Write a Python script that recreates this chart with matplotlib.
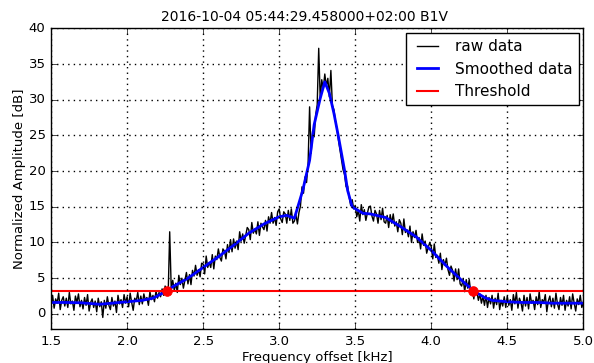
import matplotlib
matplotlib.use("Agg")
import matplotlib.pyplot as plt
import numpy as np

plt.style.use('classic')
plt.rcParams['font.family'] = ['DejaVu Sans']
plt.rcParams['font.size'] = 9.5

title = "2016-10-04 05:44:29.458000+02:00 B1V"

raw_start = 1.50
raw_step = 0.01
raw_values = [
    1.2, 2.6, 0.8, 2.1, 1.5, 2.9, 0.6, 1.9, 2.4, 1.1,
    2.2, 0.9, 3.0, 1.4, 1.8, 0.5, 2.5, 1.6, 2.8, 1.0,
    1.9, 0.7, 2.3, 1.2, 2.7, 0.4, 1.6, 2.1, 0.9, 1.8,
    0.3, 2.2, 1.0, 1.7, -0.5, 1.9, 0.8, 2.4, 1.2, 0.6,
    2.3, 1.1, 1.8, 0.2, 2.6, 1.4, 2.0, 0.9, 2.7, 1.5,
    2.4, 1.0, 2.9, 1.6, 0.5, 2.2, 1.8, 3.0, 1.3, 2.5,
    1.4, 2.8, 1.9, 2.3, 1.2, 3.1, 2.0, 2.6, 1.7, 3.2,
    2.2, 3.0, 2.4, 3.5, 2.6, 3.9, 3.1, 2.8, 11.5, 3.6,
    4.7, 3.3, 4.3, 3.0, 5.4, 4.1, 5.0, 3.6, 4.7, 5.8,
    4.2, 5.5, 4.1, 6.1, 5.3, 6.8, 5.4, 6.2, 5.2, 7.1,
    7.0, 5.6, 8.1, 6.5, 7.2, 6.5, 8.3, 6.3, 8.1, 7.6,
    9.1, 7.9, 7.4, 9.1, 8.8, 7.7, 9.7, 8.6, 10.4, 8.7,
    10.5, 9.2, 10.2, 9.0, 11.5, 10.2, 11.2, 9.9, 11.0, 12.1,
    11.8, 10.4, 12.8, 11.3, 11.9, 11.2, 12.9, 11.0, 12.7, 12.2,
    11.8, 13.1, 11.6, 13.6, 12.7, 14.2, 12.7, 13.5, 12.4, 14.3,
    14.7, 13.3, 12.8, 14.3, 14.0, 12.7, 14.5, 13.1, 14.7, 12.7,
    13.0, 13.9, 12.6, 14.2, 15.1, 17.8, 16.9, 19.2, 18.4, 21.0,
    29.0, 22.5, 25.6, 24.8, 27.9, 29.3, 37.2, 30.1, 32.8, 31.5,
    33.6, 31.9, 33.0, 30.4, 34.1, 29.2, 28.6, 27.0, 25.9, 24.3,
    22.9, 21.6, 20.2, 19.5, 17.8, 17.9, 16.4, 15.2, 16.0, 14.7,
    15.2, 13.6, 14.5, 13.0, 15.3, 13.9, 14.6, 13.1, 14.1, 15.0,
    15.1, 13.7, 13.0, 14.5, 14.0, 12.7, 14.5, 13.2, 14.8, 12.9,
    12.7, 13.8, 12.1, 13.9, 12.7, 14.0, 12.3, 12.9, 11.5, 13.2,
    12.7, 11.1, 13.3, 11.4, 11.8, 10.8, 12.3, 10.0, 11.5, 10.7,
    11.7, 10.0, 10.7, 9.1, 11.2, 9.6, 10.2, 8.5, 9.3, 10.0,
    9.4, 7.7, 9.8, 7.9, 8.2, 7.1, 8.5, 6.2, 7.6, 6.8,
    7.8, 6.2, 5.4, 6.7, 6.1, 4.6, 6.3, 4.8, 6.3, 4.2,
    3.9, 4.9, 3.1, 4.8, 3.6, 4.8, 3.0, 3.5, 2.1, 3.7,
    3.1, 1.9, 2.8, 1.5, 2.5, 1.2, 2.6, 0.9, 2.3, 1.4,
    2.6, 0.8, 2.2, 1.3, 2.9, 0.6, 1.9, 1.1, 2.4, 0.9,
    2.5, 1.2, 2.0, 0.5, 2.7, 1.4, 3.0, 0.8, 2.2, 1.6,
    0.4, 2.6, 1.1, 2.3, 0.7, 2.8, 1.5, 1.9, 0.6, 2.4,
    1.3, 3.1, 0.9, 2.0, 1.6, 2.7, 0.3, 1.8, 2.5, 1.0,
    2.2, 0.8, 2.9, 1.4, 0.6, 2.3, 1.2, 2.6, 0.5, 1.9,
    1.1, 2.4, 0.7, 2.8, 1.5, 0.4, 2.1, 1.3, 2.6, 0.9, 1.6,
]

smooth_f = [1.5, 1.6, 1.7, 1.82, 1.9, 2.0, 2.1, 2.17, 2.26, 2.3, 2.4, 2.5, 2.6, 2.7,
            2.8, 2.9, 3.0, 3.05, 3.1, 3.155, 3.2, 3.23, 3.27, 3.30, 3.33, 3.36,
            3.39, 3.43, 3.45, 3.48, 3.55, 3.6, 3.7, 3.8, 3.9, 4.0, 4.1, 4.2,
            4.28, 4.35, 4.4, 4.5, 4.6, 4.7, 4.8, 4.9, 5.0]
smooth_v = [1.6, 1.6, 1.55, 1.35, 1.5, 1.7, 1.9, 2.2, 3.2, 3.8, 5.0, 6.5, 8.0, 9.6,
            11.3, 12.6, 13.6, 13.8, 13.4, 17.3, 21.5, 26.5, 30.2, 32.5, 30.9, 28.1,
            24.8, 20.1, 17.3, 15.0, 14.1, 14.0, 13.5, 12.2, 10.8, 8.9, 6.7, 4.7,
            3.2, 2.3, 1.9, 1.7, 1.6, 1.6, 1.5, 1.5, 1.5]

threshold = 3.2
cross_f = [2.262, 4.277]

raw_f = raw_start + raw_step * np.arange(len(raw_values))

fig = plt.figure(figsize=(5.94, 3.63), dpi=100, facecolor='white')
ax = fig.add_axes([0.086, 0.093, 0.896, 0.829])
ax.plot(raw_f, raw_values, color='black', lw=1.0, label='raw data')
ax.plot(smooth_f, smooth_v, color='blue', lw=2.0, label='Smoothed data')
ax.axhline(threshold, color='red', lw=1.5, label='Threshold')
ax.plot(cross_f, [threshold] * len(cross_f), 'o', color='red', mec='red',
        markersize=7, zorder=5)

ax.set_xlim(1.5, 5.0)
ax.set_ylim(-2.15, 40)
ax.set_xticks(np.arange(1.5, 5.01, 0.5))
ax.set_yticks(np.arange(0, 41, 5))
ax.grid(True, color='black', linestyle=':', linewidth=1)
ax.set_title(title, fontsize=10, x=0.476)
ax.set_xlabel('Frequency offset [kHz]', labelpad=2)
ax.set_ylabel('Normalized Amplitude [dB]', labelpad=2)
ax.legend(loc='upper right', fontsize=11, handlelength=2, frameon=True,
          borderaxespad=0.3)

fig.savefig('out.png', dpi=100, facecolor='white')
